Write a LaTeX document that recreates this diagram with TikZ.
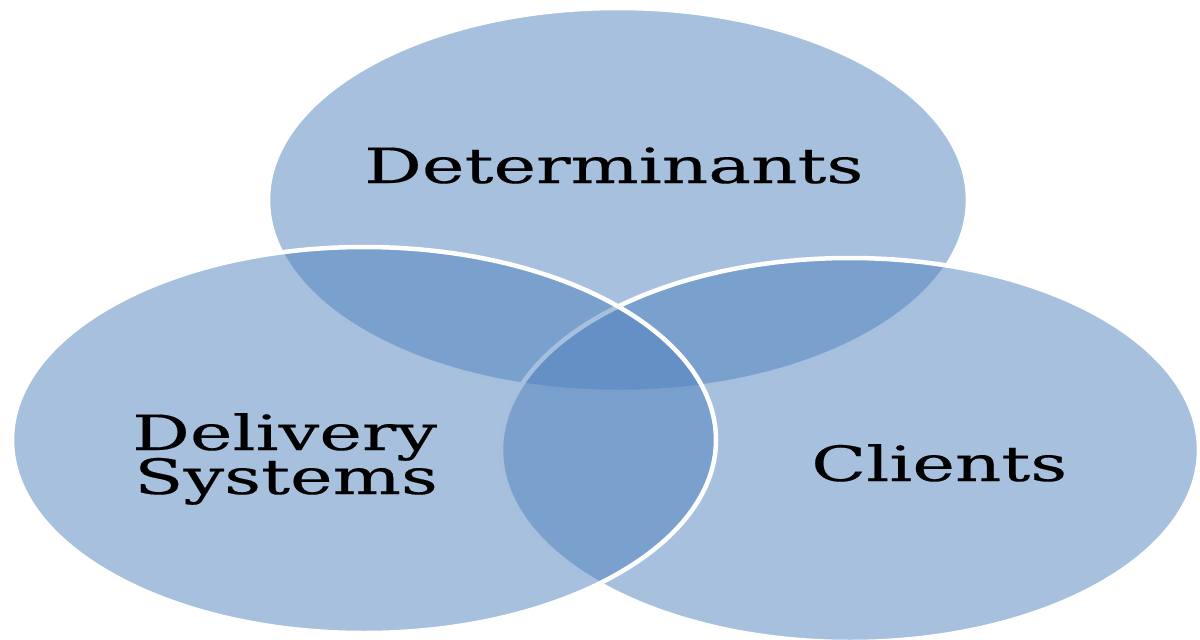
\documentclass[tikz,border=0pt]{standalone}
\usepackage{fontspec}
\setmainfont{DejaVu Serif}
\newfontfamily\vfont[FakeBold=0.3]{DejaVu Serif}
\usepackage{graphicx}
\definecolor{vennblue}{HTML}{4F81BD}
\newcommand{\vlabel}[1]{\scalebox{1.6}[1.08]{\vfont\fontsize{45pt}{45pt}\selectfont #1}}
\begin{document}
\begin{tikzpicture}[x=1pt,y=-1pt,
  venn/.style={fill=vennblue, fill opacity=0.5, draw=white, draw opacity=1, line width=4.5pt},
  lbl/.style={inner sep=0pt, anchor=base west, text=black}]
\useasboundingbox (0,0) rectangle (1200,640);
\path[venn] (618,200) ellipse [x radius=350, y radius=192];
\path[venn] (850,450) ellipse [x radius=349, y radius=192];
\path[venn] (364,440) ellipse [x radius=352, y radius=193];
\node[lbl] (det) at (364,183) {\vlabel{Determinants}};
\node[lbl] (del) at (132,450) {\vlabel{Delivery}};
\node[lbl] (sys) at (134,494) {\vlabel{Systems}};
\node[lbl] (cli) at (811,481) {\vlabel{Clients}};
\end{tikzpicture}
\end{document}
